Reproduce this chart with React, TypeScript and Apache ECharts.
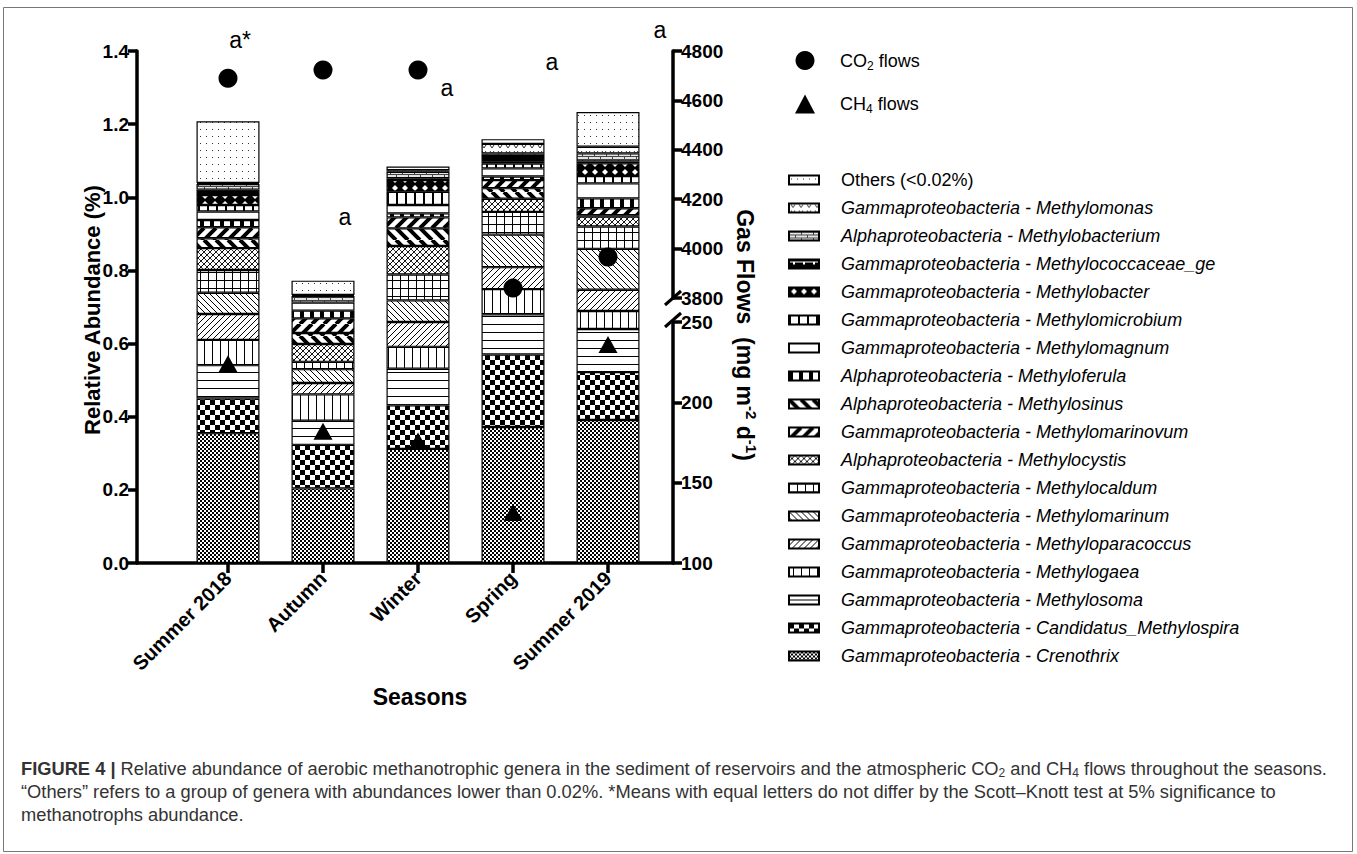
import { useEffect, useRef } from 'react';
import * as echarts from 'echarts';

// ---------- DATA ----------
const categories = ['Summer 2018', 'Autumn', 'Winter', 'Spring', 'Summer 2019'];

// relative abundance (%) per genus, one value per season (stack order bottom -> top)
const crenothrix = [0.355, 0.204, 0.312, 0.372, 0.391];
const candidatusMethylospira = [0.095, 0.119, 0.119, 0.198, 0.131];
const methylosoma = [0.091, 0.066, 0.1, 0.11, 0.118];
const methylogaea = [0.069, 0.072, 0.06, 0.069, 0.049];
const methyloparacoccus = [0.071, 0.031, 0.068, 0.06, 0.058];
const methylomarinum = [0.058, 0.038, 0.059, 0.089, 0.112];
const methylocaldum = [0.062, 0.02, 0.071, 0.062, 0.061];
const methylocystis = [0.06, 0.049, 0.078, 0.036, 0.027];
const methylosinus = [0.027, 0.03, 0.048, 0.029, 0.004];
const methylomarinovum = [0.03, 0.04, 0.03, 0.022, 0.019];
const methyloferula = [0.02, 0.021, 0.011, 0.01, 0.027];
const methylomagnum = [0.023, 0.022, 0.023, 0.022, 0.041];
const methylomicrobium = [0.018, 0, 0.036, 0.013, 0.02];
const methylobacter = [0.027, 0, 0.032, 0.005, 0.035];
const methylococcaceaeGe = [0.015, 0, 0.005, 0.016, 0.005];
const methylobacterium = [0.015, 0.018, 0.018, 0.007, 0.022];
const methylomonas = [0.003, 0.003, 0.004, 0.026, 0.018];
const others = [0.169, 0.039, 0.01, 0.013, 0.095];

// gas flows (mg m-2 d-1)
const co2Flows = [4690, 4723, 4723, 3840, 3966];
const ch4Flows = [224, 182, 176, 131.5, 236];

// Scott-Knott letters
const groupLetters = ['a*', 'a', 'a', 'a', 'a'];

// axis ticks
const leftTicks = { min: 0, max: 1.4, interval: 0.2 };
const rightUpperTicks = { min: 3800, max: 4800, interval: 200 };
const rightLowerTicks = { min: 100, max: 250, interval: 50 };

const FONT = "'Liberation Sans', Arial, Helvetica, sans-serif";

type Draw = (ctx: CanvasRenderingContext2D, w: number, h: number) => void;

function pat(w: number, h: number, draw: Draw, bg = '#fff') {
  const c = document.createElement('canvas');
  c.width = w;
  c.height = h;
  const ctx = c.getContext('2d') as CanvasRenderingContext2D;
  ctx.fillStyle = bg;
  ctx.fillRect(0, 0, w, h);
  ctx.fillStyle = '#000';
  ctx.strokeStyle = '#000';
  draw(ctx, w, h);
  return { image: c, repeat: 'repeat' };
}

function diag(ctx: CanvasRenderingContext2D, s: number, lw: number, dir: string) {
  ctx.lineWidth = lw;
  ctx.beginPath();
  for (const k of [-s, 0, s]) {
    if (dir === '/') {
      ctx.moveTo(k, s);
      ctx.lineTo(k + s, 0);
    } else {
      ctx.moveTo(k, 0);
      ctx.lineTo(k + s, s);
    }
  }
  ctx.stroke();
}

function makePatterns(): Record<string, any> {
  return {
    fineChecker: pat(4, 4, (c) => {
      c.fillRect(0, 0, 2, 2);
      c.fillRect(2, 2, 2, 2);
    }),
    coarseChecker: pat(10, 10, (c) => {
      c.fillRect(0, 0, 5, 5);
      c.fillRect(5, 5, 5, 5);
    }),
    hLines: pat(8, 8, (c) => {
      c.fillRect(0, 4, 8, 1);
    }),
    vLines: pat(8, 8, (c) => {
      c.fillRect(4, 0, 1, 8);
    }),
    thinSlash: pat(6, 6, (c) => diag(c, 6, 1, '/')),
    thinBack: pat(6, 6, (c) => diag(c, 6, 1, '\\')),
    grid: pat(8, 8, (c) => {
      c.fillRect(0, 0, 8, 1);
      c.fillRect(0, 0, 1, 8);
    }),
    cross: pat(6, 6, (c) => {
      diag(c, 6, 1, '/');
      diag(c, 6, 0.8, '\\');
    }),
    boldBack: pat(12, 12, (c) => diag(c, 12, 4, '\\')),
    boldSlash: pat(12, 12, (c) => diag(c, 12, 4, '/')),
    blocks: pat(10, 8, (c) => {
      c.fillRect(0, 0, 4, 8);
    }),
    white: pat(8, 8, () => {}),
    dividers: pat(9, 8, (c) => {
      c.fillRect(0, 0, 2, 8);
    }),
    diamonds: pat(
      10,
      8,
      (c) => {
        c.fillStyle = '#fff';
        c.beginPath();
        c.moveTo(5, 1);
        c.lineTo(8, 4);
        c.lineTo(5, 7);
        c.lineTo(2, 4);
        c.closePath();
        c.fill();
      },
      '#000'
    ),
    ticks: pat(
      10,
      8,
      (c) => {
        c.fillStyle = '#fff';
        c.fillRect(0, 2, 10, 1);
        c.fillRect(4, 2, 2, 3);
      },
      '#000'
    ),
    brick: pat(
      12,
      6,
      (c) => {
        c.fillStyle = '#444';
        c.fillRect(0, 0, 12, 1);
        c.fillRect(0, 3, 12, 1);
        c.fillRect(0, 0, 1, 3);
        c.fillRect(6, 3, 1, 3);
      },
      '#e4e4e4'
    ),
    vees: pat(8, 6, (c) => {
      c.strokeStyle = '#333';
      c.lineWidth = 1;
      c.beginPath();
      c.moveTo(2, 1);
      c.lineTo(4, 4);
      c.lineTo(6, 1);
      c.stroke();
    }),
    dots: pat(6, 7, (c) => {
      c.fillStyle = '#333';
      c.fillRect(2, 3, 1, 1);
    }),
  };
}

// stack order bottom -> top
const GENERA: [string, number[], string][] = [
  ['Gammaproteobacteria - Crenothrix', crenothrix, 'fineChecker'],
  ['Gammaproteobacteria - Candidatus_Methylospira', candidatusMethylospira, 'coarseChecker'],
  ['Gammaproteobacteria - Methylosoma', methylosoma, 'hLines'],
  ['Gammaproteobacteria - Methylogaea', methylogaea, 'vLines'],
  ['Gammaproteobacteria - Methyloparacoccus', methyloparacoccus, 'thinSlash'],
  ['Gammaproteobacteria - Methylomarinum', methylomarinum, 'thinBack'],
  ['Gammaproteobacteria - Methylocaldum', methylocaldum, 'grid'],
  ['Alphaproteobacteria - Methylocystis', methylocystis, 'cross'],
  ['Alphaproteobacteria - Methylosinus', methylosinus, 'boldBack'],
  ['Gammaproteobacteria - Methylomarinovum', methylomarinovum, 'boldSlash'],
  ['Alphaproteobacteria - Methyloferula', methyloferula, 'blocks'],
  ['Gammaproteobacteria - Methylomagnum', methylomagnum, 'white'],
  ['Gammaproteobacteria - Methylomicrobium', methylomicrobium, 'dividers'],
  ['Gammaproteobacteria - Methylobacter', methylobacter, 'diamonds'],
  ['Gammaproteobacteria - Methylococcaceae_ge', methylococcaceaeGe, 'ticks'],
  ['Alphaproteobacteria - Methylobacterium', methylobacterium, 'brick'],
  ['Gammaproteobacteria - Methylomonas', methylomonas, 'vees'],
  ['Others (<0.02%)', others, 'dots'],
];

const LEGEND_ORDER = [
  'Others (<0.02%)',
  'Gammaproteobacteria - Methylomonas',
  'Alphaproteobacteria - Methylobacterium',
  'Gammaproteobacteria - Methylococcaceae_ge',
  'Gammaproteobacteria - Methylobacter',
  'Gammaproteobacteria - Methylomicrobium',
  'Gammaproteobacteria - Methylomagnum',
  'Alphaproteobacteria - Methyloferula',
  'Alphaproteobacteria - Methylosinus',
  'Gammaproteobacteria - Methylomarinovum',
  'Alphaproteobacteria - Methylocystis',
  'Gammaproteobacteria - Methylocaldum',
  'Gammaproteobacteria - Methylomarinum',
  'Gammaproteobacteria - Methyloparacoccus',
  'Gammaproteobacteria - Methylogaea',
  'Gammaproteobacteria - Methylosoma',
  'Gammaproteobacteria - Candidatus_Methylospira',
  'Gammaproteobacteria - Crenothrix',
];

// layout
const PLOT_LEFT = 137;
const PLOT_RIGHT = 673;
const PLOT_TOP = 51;
const PLOT_BOTTOM = 563;
const BAND = 95;
const FIRST_CENTER = 228;
const BAR_LEFT = FIRST_CENTER - BAND / 2;
const BAR_WIDTH_TOTAL = BAND * categories.length;
const RIGHT_OFFSET = PLOT_RIGHT - (BAR_LEFT + BAR_WIDTH_TOTAL);
const X_MIN = (PLOT_LEFT - FIRST_CENTER) / BAND;
const X_MAX = (PLOT_RIGHT - FIRST_CENTER) / BAND;
const catIdx = categories.map((_, i) => i);

const UPPER_BOTTOM = 298;
const LOWER_TOP = 322;

const axisLineStyle = { show: true, onZero: false, lineStyle: { color: '#000', width: 3.5 } };
const tickStyle = { show: true, length: 9, lineStyle: { color: '#000', width: 3.5 } };
const labelCommon = { fontSize: 19, fontWeight: 'bold', color: '#000', fontFamily: FONT };

export default function App() {
  const ref = useRef<HTMLDivElement>(null);

  useEffect(() => {
    if (!ref.current) return;
    const chart = echarts.init(ref.current, undefined, { renderer: 'svg' });
    const P = makePatterns();

    const barSeries = GENERA.map(([name, vals, key]) => ({
      name,
      type: 'bar',
      stack: 'abundance',
      xAxisIndex: 1,
      yAxisIndex: 1,
      barWidth: 63,
      data: vals.map((v) => (v > 0 ? v : '-')),
      itemStyle: { color: P[key], borderColor: '#000', borderWidth: 1.2 },
      emphasis: { disabled: true },
      z: 2,
    }));

    const letterPos = [
      [240, 40],
      [345, 217],
      [447, 88],
      [552, 62],
      [660, 30],
    ];

    const hiddenCat = (gridIndex: number) => ({
      gridIndex,
      type: 'category',
      data: categories,
      show: false,
      boundaryGap: true,
    });

    const option: any = {
      animation: false,
      backgroundColor: '#fff',
      grid: [
        { left: PLOT_LEFT, width: PLOT_RIGHT - PLOT_LEFT, top: PLOT_TOP, height: PLOT_BOTTOM - PLOT_TOP },
        { left: BAR_LEFT, width: BAR_WIDTH_TOTAL, top: PLOT_TOP, height: PLOT_BOTTOM - PLOT_TOP },
        { left: BAR_LEFT, width: BAR_WIDTH_TOTAL, top: PLOT_TOP, height: UPPER_BOTTOM - PLOT_TOP },
        { left: BAR_LEFT, width: BAR_WIDTH_TOTAL, top: LOWER_TOP, height: PLOT_BOTTOM - LOWER_TOP },
      ],
      xAxis: [
        {
          gridIndex: 0,
          type: 'value',
          min: X_MIN,
          max: X_MAX,
          axisLine: axisLineStyle,
          splitLine: { show: false },
          axisTick: { ...tickStyle, length: 10, customValues: catIdx },
          axisLabel: {
            customValues: catIdx,
            formatter: (v: number) => categories[Math.round(v)] ?? '',
            rotate: 45,
            margin: 12,
            ...labelCommon,
            fontSize: 20,
          },
        },
        hiddenCat(1),
        hiddenCat(2),
        hiddenCat(3),
      ],
      yAxis: [
        {
          gridIndex: 0,
          type: 'value',
          position: 'left',
          ...leftTicks,
          axisLine: axisLineStyle,
          axisTick: tickStyle,
          splitLine: { show: false },
          axisLabel: { formatter: (v: number) => v.toFixed(1), margin: 8, ...labelCommon },
        },
        { gridIndex: 1, type: 'value', ...leftTicks, show: false },
        {
          gridIndex: 2,
          type: 'value',
          position: 'right',
          offset: RIGHT_OFFSET,
          ...rightUpperTicks,
          axisLine: axisLineStyle,
          axisTick: tickStyle,
          splitLine: { show: false },
          axisLabel: {
            margin: 8,
            showMinLabel: true,
            showMaxLabel: true,
            formatter: (v: number) => String(v),
            ...labelCommon,
          },
        },
        {
          gridIndex: 3,
          type: 'value',
          position: 'right',
          offset: RIGHT_OFFSET,
          ...rightLowerTicks,
          axisLine: axisLineStyle,
          axisTick: tickStyle,
          splitLine: { show: false },
          axisLabel: {
            margin: 8,
            showMinLabel: true,
            showMaxLabel: true,
            formatter: (v: number) => String(v),
            ...labelCommon,
          },
        },
      ],
      legend: [
        {
          data: ['CO2 flows', 'CH4 flows'],
          selectedMode: false,
          orient: 'vertical',
          left: 790,
          top: 46,
          itemWidth: 20,
          itemHeight: 19,
          itemGap: 23,
          formatter: (n: string) => (n === 'CO2 flows' ? '{n|CO}{sub|2}{n| flows}' : '{n|CH}{sub|4}{n| flows}'),
          textStyle: {
            color: '#000',
            padding: [0, 0, 0, 20],
            rich: {
              n: { fontSize: 18, fontFamily: FONT, lineHeight: 22, color: '#000' },
              sub: { fontSize: 12, fontFamily: FONT, lineHeight: 9, verticalAlign: 'bottom', color: '#000' },
            },
          },
        },
        {
          data: LEGEND_ORDER.map((n) => ({
            name: n,
            textStyle: { fontStyle: n.startsWith('Others') ? 'normal' : 'italic' },
          })),
          selectedMode: false,
          orient: 'vertical',
          icon: 'rect',
          left: 783,
          top: 165,
          itemWidth: 30,
          itemHeight: 9,
          itemGap: 8,
          textStyle: { fontSize: 18, lineHeight: 20, fontFamily: FONT, color: '#000', padding: [0, 0, 0, 17] },
        },
      ],
      series: [
        ...barSeries,
        {
          name: 'CO2 flows',
          type: 'scatter',
          xAxisIndex: 2,
          yAxisIndex: 2,
          symbol: 'circle',
          symbolSize: 19,
          itemStyle: { color: '#000', opacity: 1 },
          emphasis: { disabled: true },
          data: co2Flows,
          z: 5,
        },
        {
          name: 'CH4 flows',
          type: 'scatter',
          xAxisIndex: 3,
          yAxisIndex: 3,
          symbol: 'triangle',
          symbolSize: [19, 17],
          itemStyle: { color: '#000', opacity: 1 },
          emphasis: { disabled: true },
          data: ch4Flows,
          z: 5,
        },
      ],
      graphic: [
        {
          type: 'rect',
          shape: { x: 3.5, y: 7.5, width: 1349, height: 844 },
          style: { fill: 'none', stroke: '#777', lineWidth: 1 },
          silent: true,
        },
        {
          type: 'text',
          x: 92,
          y: 310,
          rotation: Math.PI / 2,
          style: {
            text: 'Relative Abundance (%)',
            fontSize: 22,
            fontWeight: 'bold',
            fontFamily: FONT,
            fill: '#000',
            align: 'center',
            verticalAlign: 'middle',
          },
        },
        {
          type: 'text',
          x: 745,
          y: 335,
          rotation: -Math.PI / 2,
          style: {
            text: '{n|Gas Flows  (mg m}{sup|-2}{n| d}{sup|-1}{n|)}',
            align: 'center',
            verticalAlign: 'middle',
            rich: {
              n: { fontSize: 23, fontWeight: 'bold', fontFamily: FONT, fill: '#000', lineHeight: 28 },
              sup: { fontSize: 15, fontWeight: 'bold', fontFamily: FONT, fill: '#000', lineHeight: 28, verticalAlign: 'top' },
            },
          },
        },
        {
          type: 'text',
          x: 420,
          y: 697,
          style: {
            text: 'Seasons',
            fontSize: 23,
            fontWeight: 'bold',
            fontFamily: FONT,
            fill: '#000',
            align: 'center',
            verticalAlign: 'middle',
          },
        },
        ...groupLetters.map((t, i) => ({
          type: 'text',
          x: letterPos[i][0],
          y: letterPos[i][1],
          style: { text: t, fontSize: 23, fontFamily: FONT, fill: '#000', align: 'center', verticalAlign: 'middle' },
        })),
        {
          type: 'line',
          shape: { x1: 665, y1: 305, x2: 681, y2: 291 },
          style: { stroke: '#000', lineWidth: 3 },
        },
        {
          type: 'line',
          shape: { x1: 665, y1: 327, x2: 681, y2: 313 },
          style: { stroke: '#000', lineWidth: 3 },
        },
        {
          type: 'text',
          x: 21,
          y: 768,
          style: {
            text:
              '{b|FIGURE 4 |}{n| Relative abundance of aerobic methanotrophic genera in the sediment of reservoirs and the atmospheric CO}{sub|2}{n| and CH}{sub|4}{n| flows throughout the seasons.}',
            verticalAlign: 'middle',
            rich: {
              b: { fontSize: 18.3, fontWeight: 'bold', fontFamily: FONT, fill: '#333', lineHeight: 22 },
              n: { fontSize: 18.3, fontFamily: FONT, fill: '#333', lineHeight: 22 },
              sub: { fontSize: 12, fontFamily: FONT, fill: '#333', lineHeight: 10, verticalAlign: 'bottom' },
            },
          },
        },
        {
          type: 'text',
          x: 21,
          y: 791,
          style: {
            text:
              '“Others” refers to a group of genera with abundances lower than 0.02%. *Means with equal letters do not differ by the Scott–Knott test at 5% significance to',
            fontSize: 18.3,
            fontFamily: FONT,
            fill: '#333',
            verticalAlign: 'middle',
          },
        },
        {
          type: 'text',
          x: 21,
          y: 814,
          style: {
            text: 'methanotrophs abundance.',
            fontSize: 18.3,
            fontFamily: FONT,
            fill: '#333',
            verticalAlign: 'middle',
          },
        },
      ],
    };

    chart.setOption(option);
    return () => chart.dispose();
  }, []);

  return (
    <div
      ref={ref}
      style={{ position: 'fixed', left: 0, top: 0, width: 1357, height: 854, background: '#fff' }}
    />
  );
}
